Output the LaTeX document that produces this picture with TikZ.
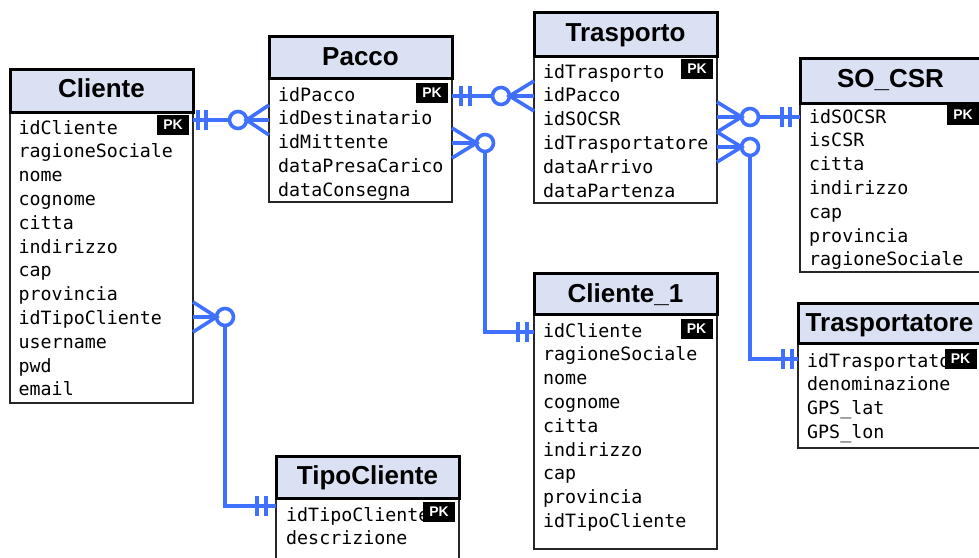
\documentclass[tikz,border=0pt]{standalone}
\usepackage{fontspec}
\setmainfont{Liberation Sans}
\newfontfamily\monof{DejaVu Sans Mono}
\definecolor{hdrfill}{RGB}{217,225,242}
\definecolor{relblue}{RGB}{64,112,255}
\tikzset{
  hdrbox/.style={draw=black,line width=3pt,fill=hdrfill},
  bodybox/.style={draw=black!85,line width=1.4pt,fill=white},
  hdrtext/.style={anchor=base,inner sep=0pt,font=\fontsize{26}{28}\selectfont\bfseries},
  rowtext/.style={anchor=base west,inner sep=0pt,font=\monof\fontsize{18.3}{20}\selectfont},
  pkbox/.style={fill=black,text=white,inner sep=0pt,minimum width=32pt,minimum height=20pt,font=\fontsize{14}{14}\selectfont\bfseries},
  relline/.style={draw=relblue,line width=3.6pt},
}
\newcommand{\ertable}[8]{%
  \draw[bodybox] (#2,#5) rectangle (#3,#6);
  \draw[hdrbox] (#2,#4) rectangle (#3,#5);
  \node[hdrtext] (#1-title) at ({(#2+#3)/2},#8) {#7};
}
\newcommand{\errows}[4]{%
  \foreach \rowtxt [count=\ri] in {#4}
    \node[rowtext] (#1-\ri) at (#2,{#3+(\ri-1)*23.8}) {\rowtxt};
}
\begin{document}
\begin{tikzpicture}[x=1pt,y=-1pt]
\fill[white] (0,0) rectangle (979,557);
\useasboundingbox (0,0) rectangle (979,557);

% Cliente
\ertable{cli}{10}{193}{69}{112}{403}{Cliente}{97}
\errows{cli}{18.5}{134}{idCliente,ragioneSociale,nome,cognome,citta,indirizzo,cap,provincia,idTipoCliente,username,pwd,email}
\node[pkbox] (cli-pk) at (173,124.5) {PK};

% Pacco
\ertable{pac}{269}{452}{36}{78}{202}{Pacco}{65}
\errows{pac}{278}{101}{idPacco,idDestinatario,idMittente,dataPresaCarico,dataConsegna}
\node[pkbox] (pac-pk) at (432,93) {PK};

% Trasporto
\ertable{tra}{534}{717}{12}{56}{203}{Trasporto}{41.5}
\errows{tra}{543}{78}{idTrasporto,idPacco,idSOCSR,idTrasportatore,dataArrivo,dataPartenza}
\node[pkbox] (tra-pk) at (697,69) {PK};

% SO_CSR
\ertable{so}{800}{981}{58}{103}{272}{SO\_CSR}{87.5}
\errows{so}{809}{123}{idSOCSR,isCSR,citta,indirizzo,cap,provincia,ragioneSociale}
\node[pkbox] (so-pk) at (963,115) {PK};

% Cliente_1
\ertable{cl1}{534}{717}{273}{314}{549}{Cliente\_1}{302}
\errows{cl1}{543}{337}{idCliente,ragioneSociale,nome,cognome,citta,indirizzo,cap,provincia,idTipoCliente}
\node[pkbox] (cl1-pk) at (696.5,328.5) {PK};

% Trasportatore
\ertable{trp}{798}{981}{303}{343}{448}{Trasportatore}{331}
\errows{trp}{807}{367}{idTrasportatore,denominazione,GPS\_lat,GPS\_lon}
\node[pkbox] (trp-pk) at (960.5,358.5) {PK};

% TipoCliente
\ertable{tc}{276}{459}{456}{498}{575}{TipoCliente}{484}
\errows{tc}{286}{521}{idTipoCliente,descrizione}
\node[pkbox] (tc-pk) at (439,512) {PK};

% ---- relations ----
% Cliente -> Pacco
\coordinate (r1a) at (193,120); \coordinate (r1b) at (269,120);
\draw[relline] (r1a) -- (229.5,120);
\draw[relline] (198,110) -- (198,130);
\draw[relline] (206,110) -- (206,130);
\draw[relline] (238,120) circle (8.5);
\draw[relline] (269,105) -- (246.5,120) -- (269,135);
\draw[relline] (246.5,120) -- (r1b);

% Pacco -> Trasporto
\coordinate (r2a) at (452,96); \coordinate (r2b) at (534,96);
\draw[relline] (r2a) -- (492.5,96);
\draw[relline] (461,86) -- (461,106);
\draw[relline] (470,86) -- (470,106);
\draw[relline] (501,96) circle (8.5);
\draw[relline] (534,81) -- (509.5,96) -- (534,111);
\draw[relline] (509.5,96) -- (r2b);

% Pacco -> Cliente_1
\coordinate (r3a) at (452,143); \coordinate (r3b) at (534,332);
\draw[relline] (452,128) -- (476.5,143) -- (452,158);
\draw[relline] (r3a) -- (476.5,143);
\draw[relline] (485,143) circle (8.5);
\draw[relline,line join=miter] (485,151.5) -- (485,332) -- (r3b);
\draw[relline] (518,322) -- (518,342);
\draw[relline] (527,322) -- (527,342);

% Trasporto -> SO_CSR
\coordinate (r4a) at (717,117); \coordinate (r4b) at (800,117);
\draw[relline] (717,102) -- (741.5,117) -- (717,132);
\draw[relline] (r4a) -- (741.5,117);
\draw[relline] (750,117) circle (8.5);
\draw[relline] (758.5,117) -- (r4b);
\draw[relline] (782,107) -- (782,127);
\draw[relline] (790,107) -- (790,127);

% Trasporto -> Trasportatore
\coordinate (r5a) at (717,147); \coordinate (r5b) at (798,359);
\draw[relline] (717,132) -- (741.5,147) -- (717,162);
\draw[relline] (r5a) -- (741.5,147);
\draw[relline] (750,147) circle (8.5);
\draw[relline,line join=miter] (750,155.5) -- (750,359) -- (r5b);
\draw[relline] (783,349) -- (783,369);
\draw[relline] (792,349) -- (792,369);

% Cliente -> TipoCliente
\coordinate (r6a) at (193,317); \coordinate (r6b) at (276,506);
\draw[relline] (193,302) -- (216.5,317) -- (193,332);
\draw[relline] (r6a) -- (216.5,317);
\draw[relline] (225,317) circle (8.5);
\draw[relline,line join=miter] (225,325.5) -- (225,506) -- (r6b);
\draw[relline] (257,496) -- (257,516);
\draw[relline] (266,496) -- (266,516);
\end{tikzpicture}
\end{document}
